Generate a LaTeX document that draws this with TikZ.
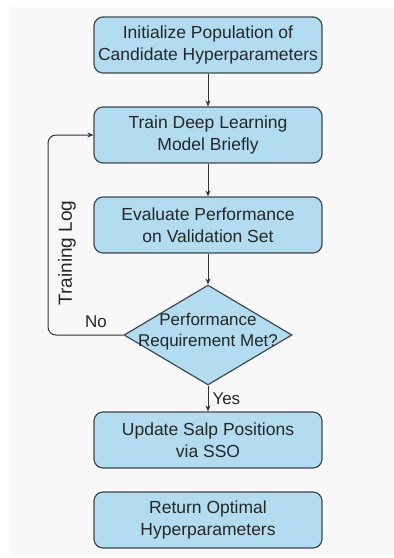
\documentclass[tikz,border=0pt]{standalone}
\usepackage{fontspec}
\setmainfont{Liberation Sans}
\usetikzlibrary{shapes.geometric,arrows.meta}
\definecolor{boxblue}{HTML}{B3DCF0}
\definecolor{edgegray}{HTML}{3E4A52}
\definecolor{linegray}{HTML}{333333}
\definecolor{textgray}{HTML}{262626}
\definecolor{paper}{HTML}{F8F8F8}
\tikzset{
  stepbox/.style={draw=edgegray,fill=boxblue,line width=1.2pt,rounded corners=9pt,
    minimum width=228pt,minimum height=56pt,align=center,text=textgray,
    font=\fontsize{17.5}{22}\selectfont},
  decide/.style={diamond,draw=edgegray,fill=boxblue,line width=1.2pt,inner sep=0pt,
    minimum width=168pt,minimum height=100pt},
  flow/.style={-{Stealth[length=6pt,width=5pt]},line width=1pt,draw=linegray},
  tag/.style={text=textgray,font=\fontsize{17}{20}\selectfont},
}
\begin{document}
\begin{tikzpicture}[x=1pt,y=-1pt]
        \useasboundingbox (0,0) rectangle (394,558);
        \fill[paper] (10,7) rectangle (394,555);
        % steps
        \node[stepbox] (init) at (208,45) {Initialize Population of\\Candidate Hyperparameters};
        \node[stepbox] (train) at (208,135) {Train Deep Learning\\Model Briefly};
        \node[stepbox] (eval) at (208,225) {Evaluate Performance\\on Validation Set};
        \node[decide] (check) at (208,335) {};
        \node[tag,align=center,font=\fontsize{17}{21}\selectfont] (checktxt) at (208,332) {Performance\\Requirement Met?};
        \node[stepbox] (update) at (208,440) {Update Salp Positions\\via SSO};
        \node[stepbox] (ret) at (208,520) {Return Optimal\\Hyperparameters};
        % arrows
        \draw[flow] (init)--(train);
        \draw[flow] (train)--(eval);
        \draw[flow] (eval)--(check);
        \draw[flow] (check)--node[tag,right,inner sep=4pt]{Yes}(update);
        \coordinate (loopturn) at (48,135);
        \draw[flow,rounded corners=8pt] (check.west)-|(loopturn)--(train.west);
        \node[tag] (no) at (96,322) {No};
        \node[tag,rotate=90,font=\fontsize{19}{22}\selectfont] (log) at (67,253) {Training Log};
    \end{tikzpicture}
\end{document}
